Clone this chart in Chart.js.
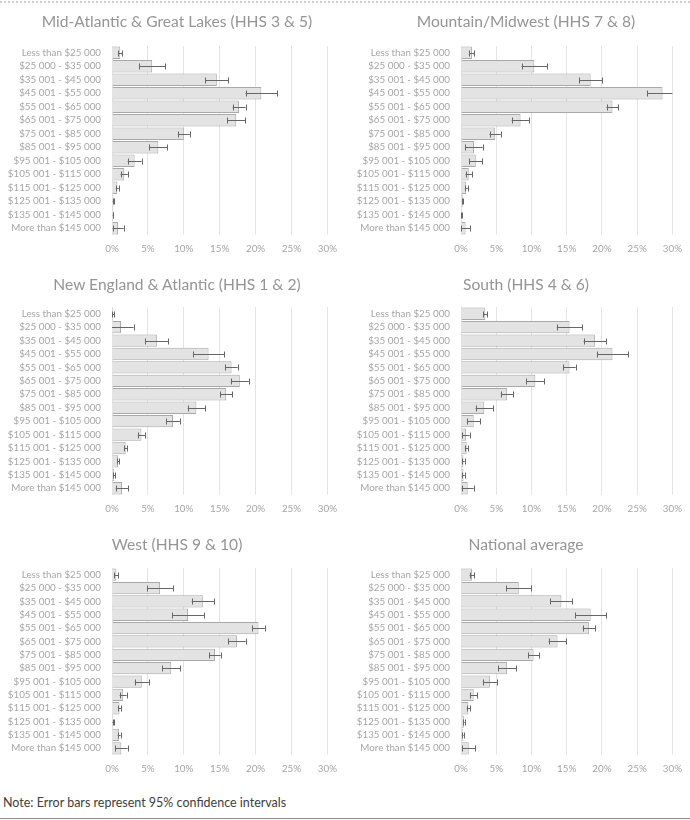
<!DOCTYPE html>
<html>
<head>
<meta charset="utf-8">
<script src="https://cdn.jsdelivr.net/npm/chart.js@4.4.0/dist/chart.umd.min.js"></script>
<style>
  body { margin: 0; background: #fff; font-family: Lato, sans-serif; }
  #wrap { position: relative; width: 690px; height: 820px; overflow: hidden; }
  #wrap .topline { position: absolute; left: 0; right: 0; top: 1px; border-top: 2px dotted #cfcfcf; }
  #wrap .bottomline { position: absolute; left: 0; right: 0; top: 818px; border-top: 1px solid #8c8c8c; }
  .cell { position: absolute; width: 345px; height: 260px; }
  .ttl { position: absolute; width: 320px; text-align: center; font-size: 15.6px; line-height: 20px; color: #959595; }
  .note { position: absolute; left: 3px; top: 795px; font-size: 12.5px; color: #404040; }
</style>
</head>
<body>
<div id="wrap">
  <div class="topline"></div>
  <div class="cell" style="left:0;top:0"><canvas id="c1"></canvas></div>
  <div class="cell" style="left:345px;top:0"><canvas id="c2"></canvas></div>
  <div class="cell" style="left:0;top:260px"><canvas id="c3"></canvas></div>
  <div class="cell" style="left:345px;top:260px"><canvas id="c4"></canvas></div>
  <div class="cell" style="left:0;top:520px"><canvas id="c5"></canvas></div>
  <div class="cell" style="left:345px;top:520px"><canvas id="c6"></canvas></div>
  <div class="ttl" style="left:17px;top:11px">Mid-Atlantic &amp; Great Lakes (HHS 3 &amp; 5)</div>
  <div class="ttl" style="left:366px;top:11px">Mountain/Midwest (HHS 7 &amp; 8)</div>
  <div class="ttl" style="left:17px;top:274px">New England &amp; Atlantic (HHS 1 &amp; 2)</div>
  <div class="ttl" style="left:366px;top:274px">South (HHS 4 &amp; 6)</div>
  <div class="ttl" style="left:17px;top:534px">West (HHS 9 &amp; 10)</div>
  <div class="ttl" style="left:366px;top:534px">National average</div>
  <div class="note">Note: Error bars represent 95% confidence intervals</div>
  <div class="bottomline"></div>
</div>
<script>
// income bands (same for every panel)
const incomeBands = [
  "Less than $25 000", "$25 000 - $35 000", "$35 001 - $45 000", "$45 001 - $55 000",
  "$55 001 - $65 000", "$65 001 - $75 000", "$75 001 - $85 000", "$85 001 - $95 000",
  "$95 001 - $105 000", "$105 001 - $115 000", "$115 001 - $125 000", "$125 001 - $135 000",
  "$135 001 - $145 000", "More than $145 000"
];
const xTicks = [0, 5, 10, 15, 20, 25, 30];

// share of respondents (%) and 95% CI half-width, per region
const midAtlantic     = [1.15, 5.6, 14.6, 20.8, 17.7, 17.3, 10.0, 6.45, 3.15, 1.7, 0.75, 0.2, 0.15, 0.85];
const midAtlanticErr  = [0.3, 1.8, 1.6, 2.2, 0.9, 1.28, 0.83, 1.25, 0.97, 0.5, 0.2, 0.1, 0.05, 0.77];

const mountain        = [1.55, 10.4, 18.4, 28.6, 21.5, 8.45, 4.85, 1.85, 2.1, 1.1, 0.75, 0.25, 0.1, 0.65];
const mountainErr     = [0.35, 1.8, 1.6, 2.2, 0.85, 1.25, 0.8, 1.23, 0.95, 0.45, 0.2, 0.1, 0.05, 0.62];

const newEngland      = [0.15, 1.25, 6.25, 13.45, 16.65, 17.8, 15.9, 11.75, 8.5, 4.1, 1.9, 0.85, 0.3, 1.4];
const newEnglandErr   = [0.15, 1.75, 1.6, 2.15, 0.85, 1.25, 0.85, 1.2, 0.95, 0.5, 0.2, 0.15, 0.15, 0.88];

const south           = [3.45, 15.4, 19.0, 21.5, 15.4, 10.55, 6.55, 3.3, 1.8, 0.7, 0.8, 0.35, 0.35, 0.95];
const southErr        = [0.28, 1.8, 1.6, 2.2, 0.88, 1.28, 0.82, 1.23, 0.95, 0.53, 0.24, 0.15, 0.17, 0.85];

const west            = [0.6, 6.7, 12.65, 10.6, 20.4, 17.4, 14.35, 8.25, 4.15, 1.55, 1.05, 0.15, 1.0, 1.3];
const westErr         = [0.26, 1.8, 1.55, 2.2, 0.88, 1.22, 0.79, 1.22, 0.97, 0.49, 0.21, 0.08, 0.2, 0.88];

const national        = [1.55, 8.2, 14.25, 18.4, 18.15, 13.7, 10.3, 6.55, 4.1, 1.8, 1.05, 0.4, 0.25, 1.1];
const nationalErr     = [0.33, 1.78, 1.57, 2.18, 0.87, 1.25, 0.78, 1.25, 0.98, 0.48, 0.23, 0.1, 0.12, 0.9];

// draws the horizontal error bars, clipped to the x scale
const errorBars = {
  id: "errorBars",
  afterDatasetsDraw(chart, args, opts) {
    const ctx = chart.ctx;
    const xs = chart.scales.x;
    const vals = chart.data.datasets[0].data;
    const err = opts.margins || [];
    ctx.save();
    ctx.strokeStyle = "#666666";
    ctx.lineWidth = 1;
    chart.getDatasetMeta(0).data.forEach((bar, i) => {
      const lo = vals[i] - err[i];
      const hi = vals[i] + err[i];
      const x1 = xs.getPixelForValue(Math.max(lo, xs.min));
      const x2 = xs.getPixelForValue(Math.min(hi, xs.max));
      const y = Math.round(bar.y) + 0.5;
      ctx.beginPath();
      ctx.moveTo(x1, y);
      ctx.lineTo(x2, y);
      if (lo >= xs.min) { ctx.moveTo(Math.round(x1) + 0.5, y - 3); ctx.lineTo(Math.round(x1) + 0.5, y + 3); }
      if (hi <= xs.max) { ctx.moveTo(Math.round(x2) + 0.5, y - 3); ctx.lineTo(Math.round(x2) + 0.5, y + 3); }
      ctx.stroke();
    });
    ctx.restore();
  }
};

function makeChart(id, values, margins, axisWidth, padRight, padTop) {
  return new Chart(document.getElementById(id), {
    type: "bar",
    data: {
      labels: incomeBands,
      datasets: [{
        data: values,
        backgroundColor: "#e3e3e3",
        borderColor: "#a9a9a9",
        borderWidth: 1,
        categoryPercentage: 1,
        barPercentage: 0.92
      }]
    },
    options: {
      indexAxis: "y",
      responsive: true,
      maintainAspectRatio: false,
      animation: false,
      layout: { padding: { left: 0, right: padRight, top: padTop, bottom: 0 } },
      plugins: {
        legend: { display: false },
        tooltip: { enabled: false },
        title: { display: false },
        errorBars: { margins: margins }
      },
      scales: {
        x: {
          min: 0,
          max: 30,
          afterBuildTicks: s => { s.ticks = xTicks.map(v => ({ value: v })); },
          afterFit: s => { s.height = 25; },
          grid: { color: "#e4e4e4", drawTicks: false },
          border: { display: false },
          ticks: {
            color: "#a6a6a6",
            padding: 8,
            font: { family: "Lato", size: 9.8 },
            callback: v => v + "%"
          }
        },
        y: {
          afterFit: s => { s.width = axisWidth; },
          grid: { display: false, drawTicks: false },
          border: { display: false },
          ticks: {
            color: "#a6a6a6",
            padding: 11,
            autoSkip: false,
            font: { family: "Lato", size: 9.8 }
          }
        }
      }
    },
    plugins: [errorBars]
  });
}

makeChart("c1", midAtlantic, midAtlanticErr, 112, 17, 46);
makeChart("c2", mountain, mountainErr, 116, 13, 46);
makeChart("c3", newEngland, newEnglandErr, 112, 17, 47);
makeChart("c4", south, southErr, 116, 13, 47);
makeChart("c5", west, westErr, 112, 17, 48);
makeChart("c6", national, nationalErr, 116, 13, 48);
</script>
</body>
</html>
